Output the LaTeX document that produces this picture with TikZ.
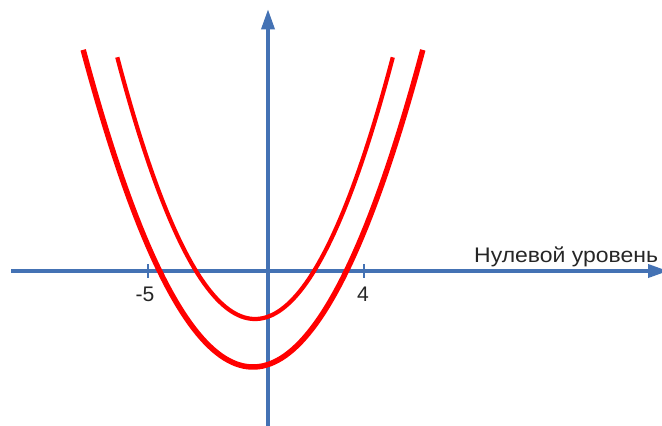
\documentclass[tikz,border=0pt]{standalone}
\usepackage{fontspec}
\setmainfont{Liberation Sans}
\usetikzlibrary{arrows.meta}
\definecolor{axisblue}{RGB}{68,114,180}

\begin{document}
\begin{tikzpicture}[x=0.6cm,y=0.6cm,font=\fontsize{15}{17}\selectfont]
\tikzset{
  axis/.style={draw=axisblue,line width=2.2pt,-{Triangle[length=5mm,width=3.3mm]}},
  tick/.style={draw=axisblue,line width=2pt},
  curve/.style={draw=red},
  lbl/.style={text=black!85,inner sep=0pt}
}
\useasboundingbox (-11.1667,-6.4167) rectangle (16.4167,11.2917);

\coordinate (xstart) at (-10.7,0);
\coordinate (xend) at (16.67,0);
\coordinate (ystart) at (0,-6.45);
\coordinate (yend) at (0,10.9);
\draw[axis] (xstart) -- (xend);
\draw[axis] (ystart) -- (yend);

% ticks on the level line
\foreach \t in {-5,4}{
  \draw[tick] (\t,-0.28) -- (\t,0.28);
}
\node[lbl] (minusfive) at (-5.125,-0.96) {-5};
\node[lbl] (four) at (3.96,-0.96) {4};
\node[lbl,anchor=base west] (zerolevel) at (8.58,0.35) {\scalebox{1.09}[1]{Нулевой уровень}};

% the two parabolas
\draw[curve,line width=3.9pt] plot[domain=-7.7:6.45,samples=90] (\x,{0.264*(\x+0.625)^2-4});
\draw[curve,line width=3pt] plot[domain=-6.28:5.2,samples=90] (\x,{0.331*(\x+0.54)^2-2});
\end{tikzpicture}
\end{document}
